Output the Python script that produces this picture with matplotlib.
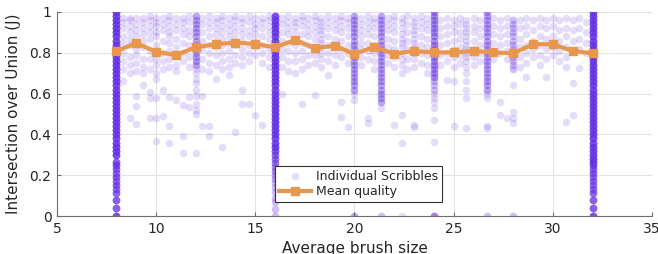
import numpy as np
import matplotlib.pyplot as plt
from matplotlib.ticker import FormatStrFormatter

# mean quality per brush size
mean_x = [8, 9, 10, 11, 12, 13, 14, 15, 16, 17, 18, 19, 20, 21, 22, 23, 24, 25, 26, 27, 28, 29, 30, 31, 32]
mean_y = [0.809, 0.847, 0.805, 0.789, 0.827, 0.842, 0.850, 0.843, 0.827, 0.863, 0.822, 0.835, 0.794,
          0.830, 0.794, 0.809, 0.802, 0.802, 0.809, 0.802, 0.797, 0.842, 0.842, 0.809, 0.797]

# scattered scribbles, grouped by brush size
band_x = [8.33, 8.67, 9.0, 9.33, 9.67, 10.0, 10.33, 10.67, 11.0, 11.33, 11.67, 12.33, 12.67, 13.0,
          13.33, 13.67, 14.0, 14.33, 14.67, 15.0, 15.33, 15.67, 16.33, 16.67, 17.0, 17.33, 17.67,
          18.0, 18.33, 18.67, 19.0, 19.33, 19.67, 20.33, 20.67, 21.0, 21.67, 22.0, 22.4, 22.67,
          23.0, 23.33, 23.67, 24.33, 24.67, 25.0, 25.33, 25.6, 26.0, 26.33, 27.0, 27.33, 27.67,
          28.33, 28.67, 29.0, 29.33, 29.67, 30.0, 30.33, 30.67, 31.0, 31.33, 31.67]
band_y = [
    [0.97, 0.95, 0.92, 0.88, 0.85, 0.80, 0.76, 0.72, 0.66],
    [0.97, 0.96, 0.93, 0.90, 0.87, 0.84, 0.78, 0.74, 0.70, 0.48],
    [0.97, 0.94, 0.91, 0.88, 0.82, 0.79, 0.75, 0.71, 0.59, 0.54, 0.45],
    [0.97, 0.95, 0.92, 0.89, 0.86, 0.83, 0.77, 0.73, 0.70, 0.64],
    [0.98, 0.96, 0.93, 0.90, 0.87, 0.81, 0.77, 0.72, 0.61, 0.48, 0.58],
    [0.97, 0.95, 0.93, 0.90, 0.88, 0.84, 0.81, 0.77, 0.74, 0.70, 0.67, 0.58, 0.48, 0.37],
    [0.97, 0.94, 0.91, 0.86, 0.80, 0.76, 0.72, 0.62, 0.49],
    [0.98, 0.96, 0.93, 0.90, 0.88, 0.85, 0.81, 0.77, 0.73, 0.585, 0.36, 0.44],
    [0.97, 0.94, 0.91, 0.87, 0.83, 0.79, 0.74, 0.71, 0.57],
    [0.97, 0.95, 0.92, 0.89, 0.85, 0.80, 0.76, 0.545, 0.39, 0.31],
    [0.98, 0.95, 0.91, 0.88, 0.84, 0.78, 0.73, 0.535, 0.585],
    [0.97, 0.94, 0.90, 0.86, 0.82, 0.77, 0.72, 0.59, 0.44],
    [0.98, 0.95, 0.92, 0.88, 0.84, 0.80, 0.75, 0.71, 0.44, 0.39],
    [0.97, 0.95, 0.92, 0.89, 0.86, 0.83, 0.79, 0.74, 0.67],
    [0.98, 0.96, 0.93, 0.90, 0.87, 0.84, 0.80, 0.76, 0.72, 0.34],
    [0.97, 0.94, 0.91, 0.88, 0.85, 0.81, 0.77, 0.73, 0.69],
    [0.98, 0.96, 0.93, 0.90, 0.87, 0.84, 0.79, 0.75, 0.41],
    [0.97, 0.95, 0.92, 0.89, 0.86, 0.82, 0.78, 0.74, 0.62, 0.55],
    [0.98, 0.95, 0.91, 0.88, 0.84, 0.80, 0.76, 0.55],
    [0.97, 0.94, 0.92, 0.89, 0.86, 0.83, 0.79, 0.495],
    [0.97, 0.95, 0.92, 0.88, 0.84, 0.80, 0.75, 0.446],
    [0.98, 0.96, 0.93, 0.90, 0.87, 0.82, 0.78, 0.73],
    [0.97, 0.94, 0.90, 0.86, 0.82, 0.78, 0.73, 0.60],
    [0.98, 0.95, 0.92, 0.89, 0.85, 0.81, 0.76, 0.71],
    [0.97, 0.95, 0.93, 0.90, 0.87, 0.84, 0.80, 0.76, 0.70],
    [0.98, 0.96, 0.93, 0.89, 0.85, 0.81, 0.77, 0.72, 0.55],
    [0.97, 0.94, 0.91, 0.88, 0.84, 0.79, 0.74],
    [0.98, 0.96, 0.93, 0.90, 0.87, 0.83, 0.79, 0.75, 0.593],
    [0.97, 0.95, 0.93, 0.91, 0.89, 0.87, 0.85, 0.83, 0.80, 0.77, 0.73],
    [0.98, 0.95, 0.92, 0.88, 0.84, 0.80, 0.76, 0.69],
    [0.97, 0.94, 0.91, 0.87, 0.83, 0.79, 0.74],
    [0.98, 0.96, 0.93, 0.90, 0.86, 0.82, 0.78, 0.56, 0.487],
    [0.97, 0.95, 0.92, 0.88, 0.84, 0.80, 0.75, 0.438],
    [0.97, 0.94, 0.91, 0.88, 0.85, 0.82, 0.78, 0.74],
    [0.98, 0.95, 0.92, 0.89, 0.85, 0.81, 0.77, 0.48, 0.454],
    [0.97, 0.95, 0.92, 0.88, 0.84, 0.80, 0.76, 0.72],
    [0.97, 0.94, 0.91, 0.87, 0.83, 0.79, 0.75],
    [0.98, 0.96, 0.93, 0.90, 0.86, 0.82, 0.78, 0.73, 0.446],
    [0.97, 0.95, 0.92, 0.89, 0.87, 0.85, 0.83, 0.80, 0.77, 0.74, 0.70, 0.495, 0.356, 0.0],
    [0.98, 0.94, 0.90, 0.86, 0.82, 0.77, 0.72],
    [0.97, 0.95, 0.93, 0.91, 0.89, 0.87, 0.85, 0.83, 0.80, 0.77, 0.73, 0.446, 0.438],
    [0.98, 0.95, 0.92, 0.88, 0.84, 0.80, 0.75],
    [0.97, 0.94, 0.91, 0.87, 0.83, 0.79, 0.74, 0.70],
    [0.96, 0.92, 0.88, 0.84, 0.79, 0.74],
    [0.97, 0.93, 0.89, 0.85, 0.80, 0.76, 0.667],
    [0.96, 0.93, 0.90, 0.86, 0.82, 0.78, 0.73, 0.66, 0.44],
    [0.97, 0.94, 0.90, 0.87, 0.83, 0.79, 0.75],
    [0.96, 0.94, 0.92, 0.90, 0.88, 0.86, 0.84, 0.82, 0.80, 0.78, 0.76, 0.73, 0.70, 0.66, 0.62, 0.58, 0.43],
    [0.97, 0.93, 0.90, 0.86, 0.82, 0.78, 0.74],
    [0.96, 0.92, 0.88, 0.84, 0.80, 0.76],
    [0.97, 0.93, 0.89, 0.85, 0.81, 0.77],
    [0.96, 0.92, 0.88, 0.84, 0.80, 0.56, 0.495],
    [0.97, 0.93, 0.89, 0.85, 0.81, 0.77, 0.48],
    [0.96, 0.92, 0.87, 0.83, 0.78, 0.73],
    [0.97, 0.93, 0.89, 0.84, 0.80, 0.75, 0.683],
    [0.96, 0.91, 0.86, 0.82, 0.78],
    [0.97, 0.93, 0.88, 0.84, 0.79, 0.74],
    [0.96, 0.92, 0.87, 0.82, 0.77, 0.68],
    [0.97, 0.93, 0.88, 0.83, 0.79],
    [0.96, 0.91, 0.86, 0.81, 0.76],
    [0.97, 0.92, 0.88, 0.83, 0.78, 0.73, 0.462],
    [0.96, 0.91, 0.86, 0.81, 0.653, 0.495],
    [0.97, 0.92, 0.87, 0.82, 0.724],
    [0.95, 0.90, 0.85, 0.80],
]

# brush sizes where many scribbles pile up
stack_x = [8, 12, 16, 20, 21.33, 24, 26.67, 28, 32]
stack_lo = [0.30, 0.74, 0.34, 0.62, 0.56, 0.68, 0.62, 0.72, 0.28]
stack_hi = [1.00, 0.98, 0.98, 0.98, 0.98, 1.00, 1.00, 0.96, 1.00]
stack_n = [10, 3, 10, 3, 3, 4, 3, 2, 10]
grid_y = [0.28, 0.30, 0.32, 0.34, 0.36, 0.38, 0.40, 0.42, 0.44, 0.46, 0.48, 0.50, 0.52, 0.54,
          0.56, 0.58, 0.60, 0.62, 0.64, 0.66, 0.68, 0.70, 0.72, 0.74, 0.76, 0.78, 0.80, 0.82,
          0.84, 0.86, 0.88, 0.90, 0.92, 0.94, 0.96, 0.98, 1.00]
low_y = [
    [0.0, 0.04, 0.08, 0.115, 0.13, 0.15, 0.17, 0.19, 0.21, 0.23, 0.25, 0.265],
    [0.72, 0.70, 0.67, 0.65, 0.62, 0.59, 0.55, 0.52, 0.50, 0.31],
    [0.0, 0.035, 0.07, 0.09, 0.12, 0.14, 0.16, 0.18, 0.20, 0.22, 0.24, 0.26, 0.28, 0.30, 0.32],
    [0.60, 0.57, 0.0],
    [0.53, 0.0],
    [0.66, 0.64, 0.62, 0.60, 0.58, 0.56, 0.53, 0.47, 0.364, 0.0],
    [0.60, 0.58, 0.44, 0.43, 0.0],
    [0.64, 0.51, 0.48, 0.454, 0.0],
    [0.0, 0.04, 0.08, 0.115, 0.13, 0.15, 0.17, 0.19, 0.21, 0.23, 0.25, 0.265],
]
low_n = [
    [10, 8, 8, 7, 6, 7, 6, 7, 6, 7, 8, 8],
    [1, 1, 1, 1, 1, 1, 1, 1, 1, 1],
    [2, 2, 2, 2, 2, 2, 2, 3, 3, 4, 4, 5, 6, 6, 8],
    [1, 1, 3],
    [1, 2],
    [2, 2, 2, 1, 1, 1, 1, 1, 1, 5],
    [1, 1, 1, 1, 2],
    [1, 1, 1, 1, 2],
    [10, 8, 8, 7, 6, 6, 6, 6, 7, 7, 8, 8],
]

purple = '#6633e6'
orange = '#e8974c'
dark = '#262626'

xs, ys = [], []
for bx, by in zip(band_x, band_y):
    xs += [bx] * len(by)
    ys += by
for k, sx in enumerate(stack_x):
    g = [v for v in grid_y if stack_lo[k] <= v <= stack_hi[k]]
    g = list(np.repeat(g, stack_n[k])) + list(np.repeat(low_y[k], low_n[k]))
    xs += [sx] * len(g)
    ys += g

fig = plt.figure(figsize=(6.58, 2.54), dpi=100)
ax = fig.add_axes([0.0866, 0.1496, 0.9043, 0.8032])

ax.scatter(xs, ys, s=30, color=purple, alpha=0.17, linewidths=0, zorder=2,
           label='Individual Scribbles')
ax.plot(mean_x, mean_y, '-s', color=orange, lw=3, ms=5.5, zorder=3, label='Mean quality')

ax.set_xlim(5, 35)
ax.set_ylim(0, 1)
ax.set_xticks([5, 10, 15, 20, 25, 30, 35])
ax.set_yticks([0, 0.2, 0.4, 0.6, 0.8, 1])
ax.yaxis.set_major_formatter(FormatStrFormatter('%g'))
ax.grid(True, color='#e3e3e3', lw=0.8, zorder=0)
ax.set_axisbelow(True)
for s in ['top', 'right']:
    ax.spines[s].set_visible(False)
for s in ['left', 'bottom']:
    ax.spines[s].set_color('#6e6e6e')
    ax.spines[s].set_linewidth(0.8)
ax.tick_params(direction='in', length=3, width=0.8, color='#6e6e6e', labelsize=10,
               labelcolor=dark, pad=4)
ax.set_xlabel('Average brush size', fontsize=11, color=dark, labelpad=4)
ax.set_ylabel('Intersection over Union (J)', fontsize=11, color=dark, labelpad=6)

leg = ax.legend(loc='lower left', bbox_to_anchor=(0.366, 0.069), borderaxespad=0,
                fontsize=9, fancybox=False, framealpha=1, edgecolor='#333333',
                handlelength=2.6, scatterpoints=1, borderpad=0.3, labelspacing=0.2,
                handletextpad=0.4)
leg.get_frame().set_linewidth(0.8)
for t in leg.get_texts():
    t.set_color(dark)

fig.savefig('out.png', dpi=100)
